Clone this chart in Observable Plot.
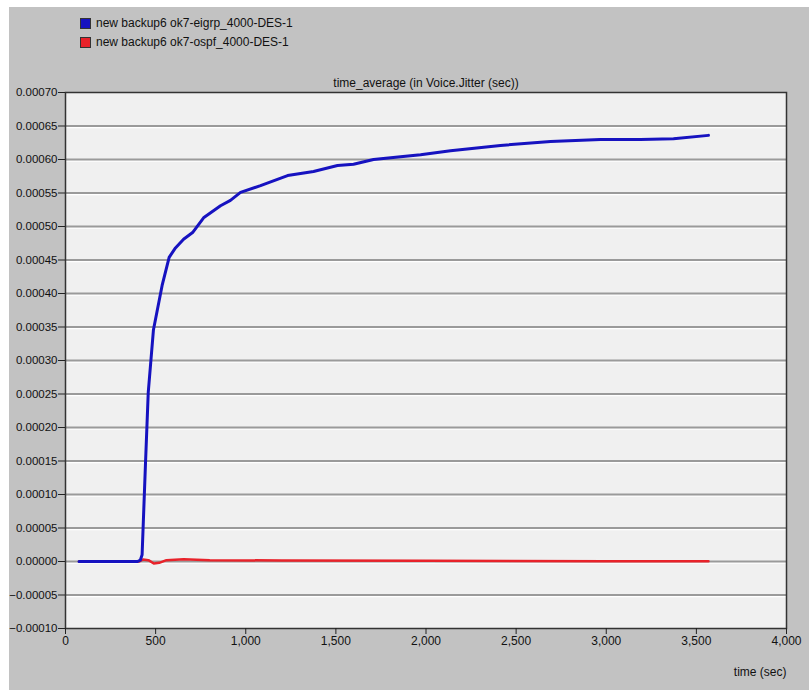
<!DOCTYPE html>
<html>
<head>
<meta charset="utf-8">
<script src="https://cdn.jsdelivr.net/npm/d3@7"></script>
<script src="https://cdn.jsdelivr.net/npm/@observablehq/plot@0.6"></script>
<style>
  body { margin: 0; background: #ffffff; }
  #panel { position: absolute; left: 9px; top: 7px; width: 800px; height: 683px; background: #c2c2c2; font-family: Arial, "Liberation Sans", sans-serif; }
  #legend { position: relative; height: 48px; font-size: 12px; color: #111; }
  .item { position: absolute; left: 71px; display: flex; align-items: center; white-space: nowrap; }
  .sw { width: 9px; height: 9px; border: 1px solid #333; margin-right: 5px; }
</style>
</head>
<body>
<div id="panel">
  <div id="legend"></div>
  <div id="chart"></div>
</div>
<script>
const seriesNames = ["new backup6 ok7-eigrp_4000-DES-1", "new backup6 ok7-ospf_4000-DES-1"];
const seriesColors = ["#1612c0", "#e8222a"];

// eigrp series: [time (sec), jitter (sec)]
const eigrpTime = [75, 400, 415, 425, 444, 459, 488, 536, 575, 610, 655, 705, 766, 860, 915, 971, 1082, 1232, 1376, 1509, 1598, 1709, 1859, 1970, 2136, 2413, 2691, 2968, 3190, 3373, 3567];
const eigrpValue = [0, 0, 0.000002, 0.00001, 0.000148, 0.000252, 0.000346, 0.000412, 0.000454, 0.000468, 0.000481, 0.000491, 0.000513, 0.000531, 0.000539, 0.000551, 0.000561, 0.000576, 0.000582, 0.000591, 0.000593, 0.0006, 0.000604, 0.000607, 0.000613, 0.000621, 0.000627, 0.00063, 0.00063, 0.000631, 0.000636];

// ospf series
const ospfTime = [75, 410, 430, 460, 490, 520, 560, 655, 800, 1200, 2000, 3000, 3567];
const ospfValue = [0, 0, 0.000003, 0.000002, -0.000003, -0.000002, 0.000002, 0.0000035, 0.000002, 0.0000015, 0.000001, 0.0000005, 0.0000005];

const yTicks = [-0.0001, -0.00005, 0, 0.00005, 0.0001, 0.00015, 0.0002, 0.00025, 0.0003, 0.00035, 0.0004, 0.00045, 0.0005, 0.00055, 0.0006, 0.00065, 0.0007];
const xTicks = [0, 500, 1000, 1500, 2000, 2500, 3000, 3500, 4000];
const titleText = "time_average (in Voice.Jitter (sec))";
const xLabel = "time (sec)";

// legend
const legend = document.getElementById("legend");
seriesNames.forEach((n, i) => {
  const d = document.createElement("div");
  d.className = "item";
  d.style.top = (i === 0 ? 9 : 28) + "px";
  d.innerHTML = `<span class="sw" style="background:${seriesColors[i]}"></span><span>${n}</span>`;
  legend.appendChild(d);
});

const eigrp = eigrpTime.map((t, i) => ({t, v: eigrpValue[i]}));
const ospf = ospfTime.map((t, i) => ({t, v: ospfValue[i]}));
const grid = yTicks.slice(1, -1);

const chart = Plot.plot({
  width: 800,
  height: 635,
  marginLeft: 56,
  marginRight: 23,
  marginTop: 37,
  marginBottom: 62,
  style: {background: "transparent", fontFamily: "Arial, 'Liberation Sans', sans-serif", fontSize: "12px", color: "#111"},
  x: {domain: [0, 4000]},
  y: {domain: [-0.0001, 0.0007]},
  marks: [
    Plot.frame({fill: "#f0f0f0", stroke: null}),
    Plot.ruleY(grid, {stroke: "#ffffff", strokeWidth: 1.5, dy: 1.5}),
    Plot.ruleY(grid, {stroke: "#9a9a9a", strokeWidth: 2}),
    Plot.frame({stroke: "#333", strokeWidth: 1.5}),
    Plot.axisY({ticks: yTicks, tickFormat: d3.format(".5f"), tickSize: 7, tickPadding: 1, fontSize: 11.5, label: null, stroke: "#222"}),
    Plot.axisX({ticks: xTicks, tickFormat: d3.format(","), tickSize: 6, tickPadding: 2, label: null, stroke: "#222"}),
    Plot.line(ospf, {x: "t", y: "v", stroke: seriesColors[1], strokeWidth: 2.5}),
    Plot.line(eigrp, {x: "t", y: "v", stroke: seriesColors[0], strokeWidth: 3}),
    Plot.text([titleText], {frameAnchor: "top", dy: -14, fill: "#111", fontSize: 12}),
    Plot.text([xLabel], {frameAnchor: "bottom-right", dy: 47, textAnchor: "end", fill: "#111", fontSize: 12})
  ]
});
document.getElementById("chart").appendChild(chart);
</script>
</body>
</html>
